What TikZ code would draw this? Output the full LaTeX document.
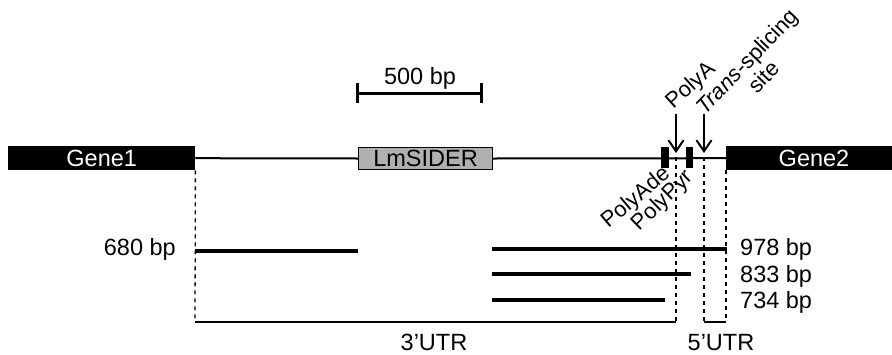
\documentclass[tikz,border=0pt]{standalone}
\usepackage{fontspec}
\setmainfont{Liberation Sans}
\usetikzlibrary{arrows.meta}
\begin{document}
\begin{tikzpicture}[x=1pt,y=-1pt,
  lbl/.style={font=\fontsize{23.5}{26}\selectfont, inner sep=0pt},
  rlbl/.style={font=\fontsize{22}{23}\selectfont, inner sep=0pt},
  genebox/.style={fill=black, draw=none, inner sep=0pt},
  dnaline/.style={line width=2pt},
  tx/.style={line width=4pt},
  guide/.style={line width=1.3pt, dash pattern=on 4pt off 4pt},
  brk/.style={line width=1.3pt},
  scalebar/.style={line width=3pt},
  pointer/.style={line width=2pt, -{Straight Barb[length=11pt,width=15pt,line width=2pt]}}
]
\useasboundingbox (0,0) rectangle (892,354);

% genes and elements
\node[genebox, minimum width=187pt, minimum height=24pt, anchor=north west, text=white, lbl] (g1) at (8,146) {Gene1};
\node[genebox, minimum width=166pt, minimum height=24pt, anchor=north west] (g2) at (726,146) {};
\node[lbl, text=white] (g2t) at (814,158) {Gene2};
\node[draw, fill=gray!62, line width=1pt, minimum width=134pt, minimum height=22pt, anchor=north west, lbl] (sider) at (358,147) {LmSIDER};
\node[genebox, minimum width=8pt, minimum height=21pt, anchor=north west] (ade) at (661,147) {};
\node[genebox, minimum width=7pt, minimum height=21pt, anchor=north west] (pyr) at (686,147) {};

\draw[dnaline] (g1.east) -- (sider.west);
\draw[dnaline] (sider.east) -- (g2.west);

% scale bar
\coordinate (sb1) at (357,93);
\coordinate (sb2) at (481,93);
\draw[scalebar] (sb1) -- (sb2);
\draw[scalebar] ([yshift=10pt]sb1) -- ([yshift=-10pt]sb1);
\draw[scalebar] ([yshift=10pt]sb2) -- ([yshift=-10pt]sb2);
\node[lbl, anchor=base] (sbl) at (420,84) {500 bp};

% arrows
\coordinate (pAtop) at (676,114);
\coordinate (pAtip) at (676,153);
\coordinate (tStop) at (704,114);
\coordinate (tStip) at (704,153);
\draw[pointer] (pAtop) -- (pAtip);
\draw[pointer] (tStop) -- (tStip);

% rotated labels
\node[rlbl, rotate=42] (polyA) at (691,86) {PolyA};
\node[rlbl, rotate=46, align=center] (tsite) at (755,69) {\textit{Trans}-splicing\\site};
\node[rlbl, rotate=40] (polyAde) at (636,198) {PolyAde};
\node[rlbl, rotate=44] (polyPyr) at (663,201) {PolyPyr};

% guides and brackets
\coordinate (d1) at (676,157);
\coordinate (d2) at (704,157);
\coordinate (b1) at (195,322);
\coordinate (b2) at (676,322);
\coordinate (b3) at (704,322);
\coordinate (b4) at (726,322);
\draw[guide] (g1.south east) -- (b1);
\draw[guide] (d1) -- (b2);
\draw[guide] (d2) -- (b3);
\draw[guide] (g2.south west) -- (b4);
\draw[brk] (b1) -- (b2);
\draw[brk] (b3) -- (b4);
\node[lbl, anchor=base] (utr3) at (434,350) {3’UTR};
\node[lbl, anchor=base] (utr5) at (721,350) {5’UTR};

% transcripts
\coordinate (t1a) at (195,251);
\coordinate (t1b) at (358,251);
\coordinate (t2a) at (492,249);
\coordinate (t2b) at (727,249);
\coordinate (t3a) at (492,274);
\coordinate (t3b) at (691,274);
\coordinate (t4a) at (492,300);
\coordinate (t4b) at (665,300);
\draw[tx] (t1a) -- (t1b);
\draw[tx] (t2a) -- (t2b);
\draw[tx] (t3a) -- (t3b);
\draw[tx] (t4a) -- (t4b);
\node[lbl, anchor=base east] (l680) at (176,255) {680 bp};
\node[lbl, anchor=base west] (l978) at (740,255) {978 bp};
\node[lbl, anchor=base west] (l833) at (740,282) {833 bp};
\node[lbl, anchor=base west] (l734) at (740,308) {734 bp};
\end{tikzpicture}
\end{document}
